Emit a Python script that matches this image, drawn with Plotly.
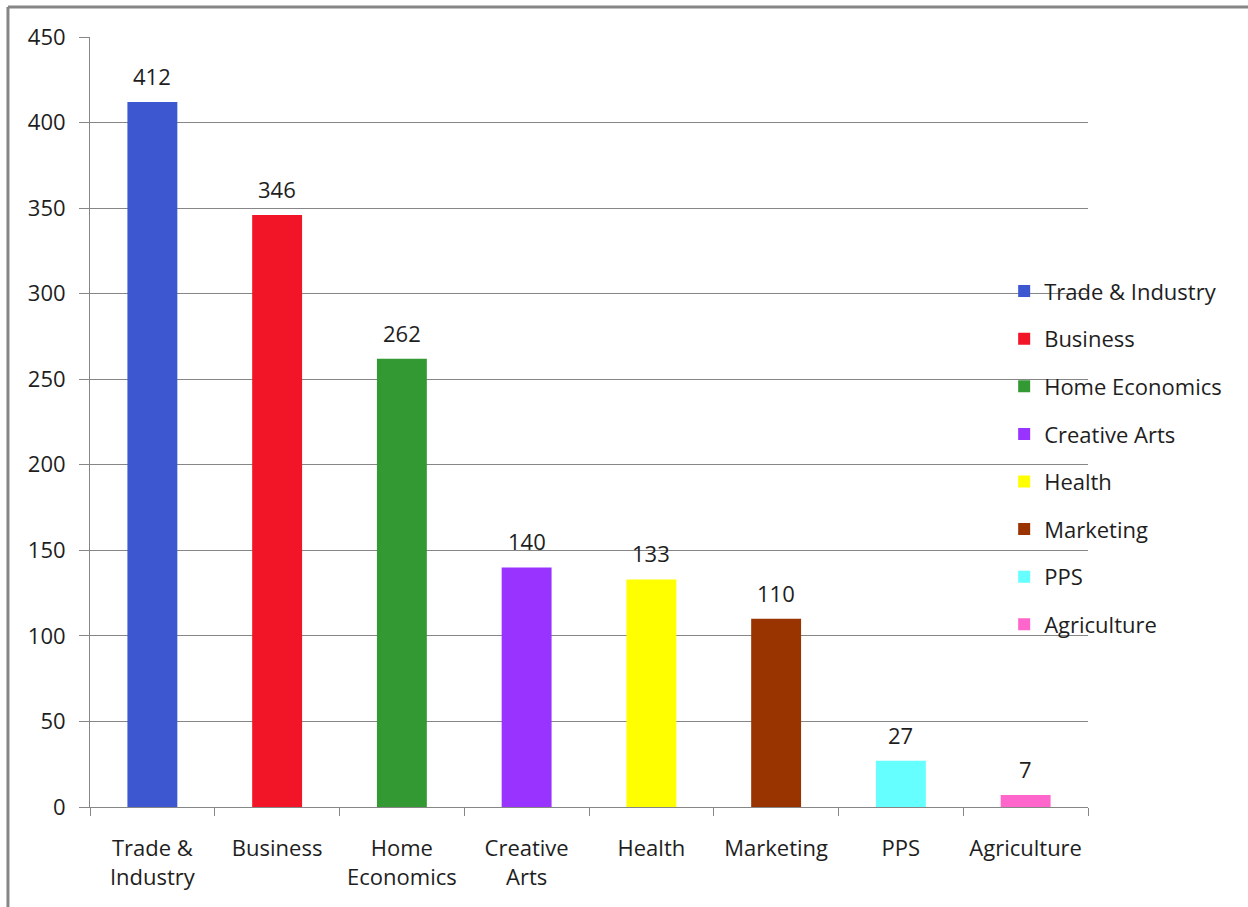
import plotly.graph_objects as go

# Enrollment counts by program area
categories = ["Trade & Industry", "Business", "Home Economics", "Creative Arts",
              "Health", "Marketing", "PPS", "Agriculture"]
axis_labels = ["Trade &<br>Industry", "Business", "Home<br>Economics", "Creative<br>Arts",
               "Health", "Marketing", "PPS", "Agriculture"]
values = [412, 346, 262, 140, 133, 110, 27, 7]
colors = ["#3C57D0", "#F21427", "#339933", "#9933FF",
          "#FFFF00", "#993300", "#66FFFF", "#FF66CC"]

FONT = "'Open Sans', sans-serif"
GRAY = "#868686"
TXT = "#1e1e1e"
FS = 23

fig = go.Figure()
for i, (name, lab, v, c) in enumerate(zip(categories, axis_labels, values, colors)):
    fig.add_trace(go.Bar(
        x=[lab], y=[v], name=name, marker=dict(color=c, line=dict(width=0)),
        width=0.4, legendgroup=f"g{i}", hoverinfo="x+y",
    ))
    fig.add_annotation(x=lab, y=v, text=str(v), showarrow=False,
                       yanchor="bottom", yshift=9,
                       font=dict(family=FONT, size=FS - 1, color=TXT))

# Outer frame around the chart
frame = dict(type="line", xref="paper", yref="paper",
             line=dict(color=GRAY, width=3), layer="above")
fig.add_shape(**frame, x0=-0.0822, x1=-0.0822, y0=-0.2, y1=1.039)
fig.add_shape(**frame, x0=-0.0822, x1=1.2, y0=1.039, y1=1.039)

fig.update_layout(
    width=1248, height=907,
    margin=dict(l=90, r=160, t=37, b=100),
    paper_bgcolor="white", plot_bgcolor="white",
    barmode="overlay",
    font=dict(family=FONT, size=FS, color=TXT),
    showlegend=True,
    legend=dict(x=0.916, y=0.697, xanchor="left", yanchor="top",
                bgcolor="rgba(0,0,0,0)", tracegroupgap=16,
                font=dict(family=FONT, size=FS - 1, color=TXT)),
    xaxis=dict(type="category", categoryorder="array", categoryarray=axis_labels,
               showline=True, linecolor=GRAY, linewidth=1,
               ticks="outside", tickson="boundaries", ticklen=8, tickcolor=GRAY,
               ticklabelstandoff=22, tickangle=0, automargin=False,
               showgrid=False, tickfont=dict(size=FS - 1, color=TXT)),
    yaxis=dict(range=[0, 450], dtick=50, showline=True, linecolor=GRAY, linewidth=1,
               ticks="outside", ticklen=10, tickcolor=GRAY, ticklabelstandoff=9,
               automargin=False,
               showgrid=True, gridcolor=GRAY, gridwidth=1,
               zeroline=False, tickfont=dict(size=FS - 1, color=TXT)),
)

fig.write_html("out.html")
